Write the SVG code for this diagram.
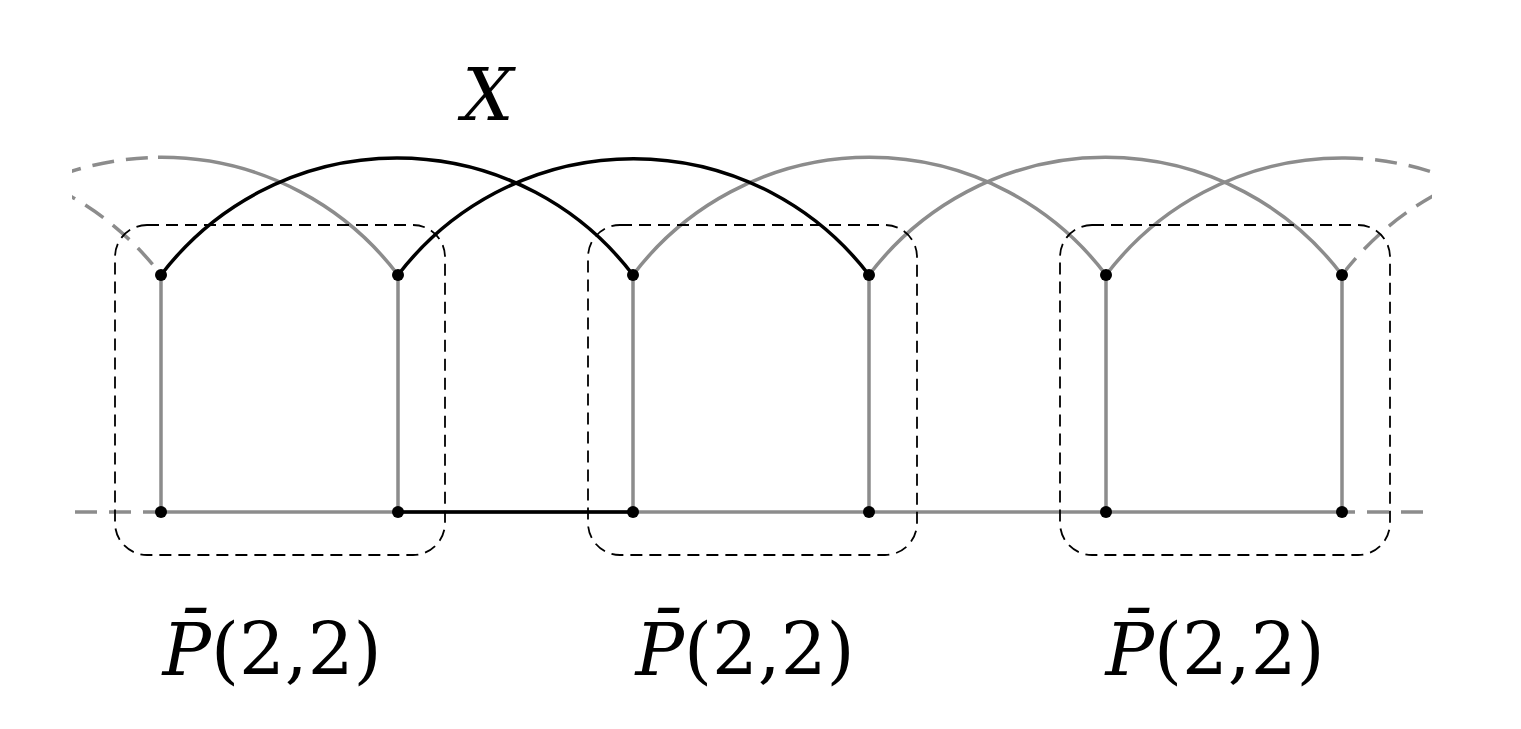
<svg xmlns="http://www.w3.org/2000/svg" width="1521" height="729" viewBox="0 0 1521 729">
<style>
.g{fill:none;stroke:#8c8c8c;stroke-width:3.5}
.b{fill:none;stroke:#000;stroke-width:3.5}
.d{stroke-dasharray:22 12}
.box{fill:none;stroke:#000;stroke-width:1.8;stroke-dasharray:12 7}
.n{fill:#000}
.t{font-family:"DejaVu Serif","Liberation Serif",serif;font-size:72px;fill:#000}
</style>
<defs>
<clipPath id="in"><rect x="158" y="0" width="1187" height="729"/></clipPath>
<clipPath id="out"><path d="M0 0H158V729H0ZM1345 0H1521V729H1345Z"/></clipPath>
<clipPath id="view"><rect x="72" y="0" width="1360" height="729"/></clipPath>
</defs>
<rect width="1521" height="729" fill="#fff"/>
<g id="connectors">
<g clip-path="url(#in)">
<path class="g" d="M-75 275A296.5 296.5 0 0 1 398 275"/>
<path class="g" d="M633 275A296.5 296.5 0 0 1 1106 275"/>
<path class="g" d="M869 275A296.5 296.5 0 0 1 1342 275"/>
<path class="g" d="M1106 275A296.5 296.5 0 0 1 1578 275"/>
<path class="g" d="M161 512H1342"/>
</g>
<g clip-path="url(#view)"><g clip-path="url(#out)">
<path class="g d" d="M-311 275A296.5 296.5 0 0 1 161 275"/>
<path class="g d" d="M-75 275A296.5 296.5 0 0 1 398 275"/>
<path class="g d" d="M1106 275A296.5 296.5 0 0 1 1578 275"/>
<path class="g d" d="M1342 275A296.5 296.5 0 0 1 1814 275"/>
<path class="g d" d="M75 512H1430"/>
</g></g>
<path class="g" d="M161 275V512M398 275V512M633 275V512M869 275V512M1106 275V512M1342 275V512"/>
<path class="b" d="M161 275A296.5 296.5 0 0 1 633 275"/>
<path class="b" d="M398 275A296.5 296.5 0 0 1 869 275"/>
<path class="b" d="M398 512H633"/>
</g>
<g id="box1"><rect class="box" x="115" y="225" width="330" height="330" rx="32"/></g>
<g id="box2"><rect class="box" x="588" y="225" width="329" height="330" rx="32"/></g>
<g id="box3"><rect class="box" x="1060" y="225" width="330" height="330" rx="32"/></g>
<g id="nodes">
<circle class="n" cx="161" cy="275" r="6"/><circle class="n" cx="398" cy="275" r="6"/><circle class="n" cx="633" cy="275" r="6"/><circle class="n" cx="869" cy="275" r="6"/><circle class="n" cx="1106" cy="275" r="6"/><circle class="n" cx="1342" cy="275" r="6"/>
<circle class="n" cx="161" cy="512" r="6"/><circle class="n" cx="398" cy="512" r="6"/><circle class="n" cx="633" cy="512" r="6"/><circle class="n" cx="869" cy="512" r="6"/><circle class="n" cx="1106" cy="512" r="6"/><circle class="n" cx="1342" cy="512" r="6"/>
</g>
<g id="labels">
<text class="t" x="488" y="120" text-anchor="middle" font-style="italic">X</text>
<text class="t" x="272" y="675" text-anchor="middle"><tspan font-style="italic">P̄</tspan>(2,2)</text>
<text class="t" x="745" y="675" text-anchor="middle"><tspan font-style="italic">P̄</tspan>(2,2)</text>
<text class="t" x="1215" y="675" text-anchor="middle"><tspan font-style="italic">P̄</tspan>(2,2)</text>
</g>
</svg>
